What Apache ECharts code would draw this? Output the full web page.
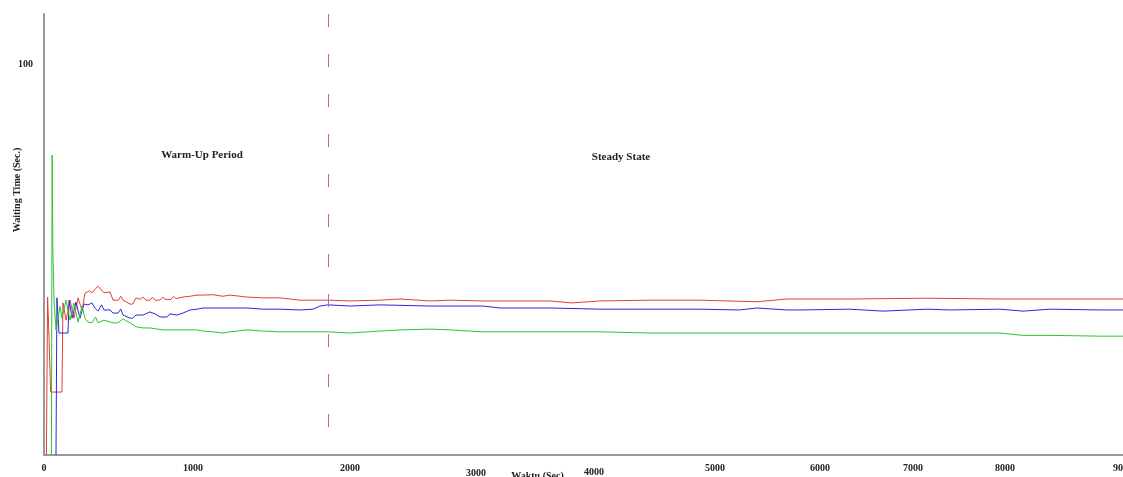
<!DOCTYPE html>
<html>
<head>
<meta charset="utf-8">
<script src="https://cdn.jsdelivr.net/npm/echarts@6/dist/echarts.min.js"></script>
<style>html,body{margin:0;padding:0;background:#fff}#c{width:1123px;height:477px}</style>
</head>
<body>
<div id="c"></div>
<script>
// x tick labels and the positions (in data units) where the reference places them
const xTickLabels = ['0','1000','2000','3000','4000','5000','6000','7000','8000','9000'];
const xTickValues = [0, 1243, 2552, 3603, 4588, 5597, 6472, 7248, 8015, 9000];
const yTickValues = [100];
const warmUpEnd = 2369;

const red = [[20,0],[30,40.4],[42,30],[55,16.1],[150,16.1],[158,38.9],[184,34.5],[217,39.6],[250,35],[284,40.2],[317,37],[342,41.4],[380,42],[400,41.5],[450,43.2],[500,41.5],[551,41.7],[576,39.6],[620,39.6],[640,40.6],[659,39.6],[717,38.6],[740,38.6],[767,40.2],[800,39.8],[826,40.4],[850,39.6],[884,39.6],[905,40.4],[926,39.6],[968,39.6],[990,40.4],[1010,39.8],[1060,39.8],[1080,40.6],[1100,40],[1159,40.4],[1218,40.6],[1276,40.9],[1326,40.9],[1410,41],[1493,40.6],[1551,40.9],[1693,40.4],[1827,40.2],[1968,40.2],[2135,39.6],[2302,39.6],[2369,39.6],[2550,39.4],[2800,39.6],[2970,39.9],[3220,39.4],[3386,39.6],[3662,39.4],[3803,39.4],[4221,39.4],[4400,38.9],[4638,39.4],[5055,39.6],[5472,39.6],[5947,39.2],[6197,39.9],[6723,39.9],[7365,40.1],[7974,39.9],[8391,39.9],[9000,39.9]];

const blue = [[100,0],[108,40.2],[125,31.2],[200,31.2],[209,39.6],[234,35],[267,39.1],[300,35],[334,38.6],[367,38.4],[400,38.9],[425,37.6],[450,36.8],[480,38.4],[500,37.1],[551,37.1],[576,36.3],[617,36.3],[640,37.3],[659,35.8],[717,35],[740,35],[767,35.8],[826,35.8],[884,36.6],[926,36.1],[968,35.3],[1026,35.3],[1051,36.1],[1109,35.8],[1159,36.3],[1218,37.1],[1276,37.3],[1326,37.6],[1410,37.6],[1551,37.6],[1693,37.6],[1827,37.3],[1968,37.3],[2135,37.1],[2244,37.3],[2302,38.1],[2369,38.4],[2552,38.1],[2803,38.4],[3220,38.1],[3662,38.1],[3803,37.6],[4221,37.6],[4638,37.3],[5055,37.3],[5472,37.3],[5800,37.1],[5947,37.6],[6197,37.1],[6306,37.1],[6723,37.3],[6998,36.8],[7365,37.3],[7557,37.1],[7974,37.3],[8166,36.8],[8391,37.3],[8808,37.1],[9000,37.1]];

const green = [[62,0],[68,76.7],[74,52.4],[84,39.6],[100,32],[133,38],[150,35],[184,39.6],[217,34.5],[250,38.9],[284,34],[317,38],[342,35],[367,34],[400,33.8],[430,35.3],[450,33.8],[500,34.5],[576,33.8],[617,33.8],[660,34.8],[717,33.8],[767,32.8],[826,32.5],[884,32.5],[993,32],[1109,32],[1218,32],[1276,32],[1326,31.7],[1410,31.5],[1493,31.2],[1551,31.5],[1693,32],[1827,31.7],[1968,31.5],[2135,31.5],[2369,31.5],[2552,31.2],[2803,31.7],[2970,32],[3220,32.2],[3386,32],[3662,31.5],[4221,31.5],[4638,31.5],[5055,31.2],[5472,31.2],[6306,31.2],[6998,31.2],[7557,31.2],[7974,31.2],[8166,30.6],[8391,30.6],[8808,30.4],[9000,30.4]];

const FONT = '"Liberation Serif", "DejaVu Serif", serif';
const chart = echarts.init(document.getElementById('c'));
function lineSeries(name, data, color) {
  return { name, type: 'line', data, showSymbol: false, symbol: 'none',
    lineStyle: { color, width: 1 }, itemStyle: { color }, animation: false };
}
const s = [
  lineSeries('red', red, '#e83a3a'),
  lineSeries('blue', blue, '#2a2ad6'),
  lineSeries('green', green, '#2ec42e')
];
s[0].markLine = {
  silent: true, symbol: 'none', label: { show: false },
  lineStyle: { color: '#c060b8', width: 1, type: [13, 27], dashOffset: 12 },
  data: [{ xAxis: warmUpEnd }]
};
chart.setOption({
  animation: false,
  grid: { left: 44, right: 0, top: 14, bottom: 22, containLabel: false, outerBoundsMode: 'none' },
  xAxis: {
    type: 'value', min: 0, max: 9000,
    axisLine: { show: true, lineStyle: { color: '#9a9a9a', width: 2 } },
    axisTick: { show: false }, splitLine: { show: false },
    axisLabel: {
      customValues: xTickValues, margin: 8,
      fontFamily: FONT, fontWeight: 'bold', fontSize: 10, color: '#222',
      formatter: function (v) {
        const i = xTickValues.indexOf(v);
        const t = i >= 0 ? xTickLabels[i] : '';
        if (t === '3000') return '{low|' + t + '}';
        if (t === '4000') return '{mid|' + t + '}';
        return t;
      },
      rich: {
        low: { padding: [5, 0, 0, 0], fontFamily: FONT, fontWeight: 'bold', fontSize: 10, color: '#222' },
        mid: { padding: [4, 0, 0, 0], fontFamily: FONT, fontWeight: 'bold', fontSize: 10, color: '#222' }
      }
    },
    name: 'Waktu (Sec)', nameLocation: 'middle', nameGap: 16, nameMoveOverlap: false,
    nameTextStyle: { fontFamily: FONT, fontWeight: 'bold', fontSize: 10, color: '#222', padding: [0, 92, 0, 0] }
  },
  yAxis: {
    type: 'value', min: 0, max: 112.8,
    axisLine: { show: true, lineStyle: { color: '#9a9a9a', width: 2 } },
    axisTick: { show: false }, splitLine: { show: false },
    axisLabel: {
      customValues: yTickValues, margin: 11,
      fontFamily: FONT, fontWeight: 'bold', fontSize: 10, color: '#222'
    }
  },
  graphic: [
    { type: 'text', x: 17, y: 190, rotation: Math.PI / 2,
      style: { text: 'Waiting Time (Sec.)', font: 'bold 10px ' + FONT, fill: '#222', align: 'center', verticalAlign: 'middle' } },
    { type: 'text', x: 202, y: 155,
      style: { text: 'Warm-Up Period', font: 'bold 11px ' + FONT, fill: '#222', align: 'center', verticalAlign: 'middle' } },
    { type: 'text', x: 621, y: 157,
      style: { text: 'Steady State', font: 'bold 11px ' + FONT, fill: '#222', align: 'center', verticalAlign: 'middle' } }
  ],
  series: s
});
</script>
</body>
</html>
